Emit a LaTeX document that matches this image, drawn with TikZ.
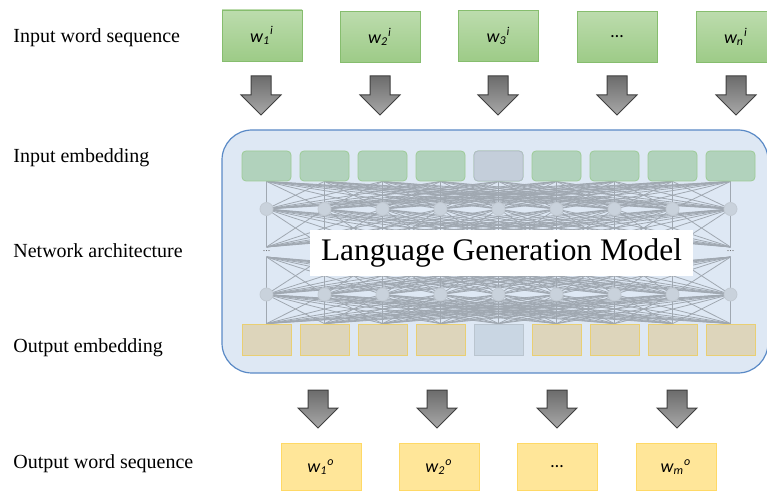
\documentclass[tikz,border=0pt]{standalone}
\usepackage{fontspec}
\setmainfont{Liberation Serif}
\newfontfamily\wordfont{Carlito}
\usepackage{xcolor}
\usetikzlibrary{positioning}
\usetikzlibrary{backgrounds}

\definecolor{modelfill}{HTML}{DEE8F4}
\definecolor{modelline}{HTML}{5A8AC6}
\definecolor{intop}{HTML}{BCDCAD}
\definecolor{inbot}{HTML}{9DCB87}
\definecolor{inline}{HTML}{86BD6E}
\definecolor{outfill}{HTML}{FFE699}
\definecolor{outline}{HTML}{FFD966}
\definecolor{embgreen}{HTML}{B1D2BC}
\definecolor{embgreenline}{HTML}{9DCB96}
\definecolor{embgrey}{HTML}{C4CEDA}
\definecolor{embgreyline}{HTML}{B0BAC5}
\definecolor{embtan}{HTML}{DDD5BB}
\definecolor{embtanline}{HTML}{E9CF73}
\definecolor{embblue}{HTML}{C9D6E3}
\definecolor{netline}{HTML}{A0A8B1}
\definecolor{neuronfill}{HTML}{C9D2DC}
\definecolor{arrowtop}{HTML}{6C6C6C}
\definecolor{arrowbot}{HTML}{A8A8A8}

\tikzset{
  lbl/.style={anchor=base west, inner sep=0pt, font=\fontsize{10}{12}\selectfont},
  wordin/.style={draw=inline, top color=intop, bottom color=inbot, minimum width=40pt,
    minimum height=25.5pt, inner sep=0pt, font=\wordfont\fontsize{9}{10}\selectfont\itshape},
  wordout/.style={draw=outline, fill=outfill, minimum width=40pt, minimum height=23.5pt,
    inner sep=0pt, font=\wordfont\fontsize{9}{10}\selectfont\itshape},
  embin/.style={draw=embgreenline, fill=embgreen, rounded corners=2pt, minimum width=24.5pt,
    minimum height=15pt, inner sep=0pt},
  embout/.style={draw=embtanline, fill=embtan, minimum width=24.5pt, minimum height=15.5pt, inner sep=0pt},
  neuron/.style={circle, draw=neuronfill!90!gray, fill=neuronfill, minimum size=6.5pt, inner sep=0pt},
  blockarrow/.style={draw=black!75, top color=arrowtop, bottom color=arrowbot, line width=0.5pt}
}

\begin{document}
\begin{tikzpicture}[x=0.5pt,y=-0.5pt]
\useasboundingbox (0,0) rectangle (767,492);

% row labels
\node[lbl] (lin) at (13,43) {Input word sequence};
\node[lbl] (lie) at (13,163) {Input embedding};
\node[lbl] (lna) at (13,257) {Network architecture};
\node[lbl] (loe) at (13,352) {Output embedding};
\node[lbl] (lout) at (13,468) {Output word sequence};

% input words
\node[wordin] (in1) at (262,35.5) {w\textsubscript{1}\textsuperscript{i}};
\node[wordin] (in2) at (380,37) {w\textsubscript{2}\textsuperscript{i}};
\node[wordin] (in3) at (498.5,36) {w\textsubscript{3}\textsuperscript{i}};
\node[wordin] (in4) at (617,37) {\upshape\dots};
\node[wordin] (in5) at (736,37) {w\textsubscript{n}\textsuperscript{i}};

% embeddings and hidden units
\foreach \i in {1,...,9} {
  \node[embin] (ie\i) at ({266.5+58*(\i-1)},166) {};
  \node[embout] (oe\i) at ({266.5+58*(\i-1)},339.5) {};
  \node[neuron] (ha\i) at ({266.5+58*(\i-1)},209) {};
  \node[neuron] (hb\i) at ({266.5+58*(\i-1)},294.5) {};
  \coordinate (mt\i) at ({266.5+58*(\i-1)},247);
  \coordinate (mb\i) at ({266.5+58*(\i-1)},257);
}
\node[embin, draw=embgreyline, fill=embgrey] at (ie5) {};
\node[embout, draw=embblue!80!gray, fill=embblue] at (oe5) {};
\node[inner sep=0pt, text=black!60, font=\fontsize{5}{5}\selectfont] (dl) at (266.5,251) {...};
\node[inner sep=0pt, text=black!60, font=\fontsize{5}{5}\selectfont] (dr) at (730.5,251) {...};

\begin{pgfonlayer}{background}
  \draw[modelline, fill=modelfill, line width=0.6pt, rounded corners=15pt] (222,130) rectangle (768,373);
  \foreach \i in {1,...,9}
    \foreach \j in {1,...,9} {
      \draw[netline, line width=0.4pt] (ie\i.south) -- (ha\j.center);
      \draw[netline, line width=0.4pt] (ha\i.center) -- (mt\j);
      \draw[netline, line width=0.4pt] (mb\i) -- (hb\j.center);
      \draw[netline, line width=0.4pt] (hb\i.center) -- (oe\j.north);
    }
\end{pgfonlayer}

\node[fill=white, minimum width=191.5pt, minimum height=23pt, inner sep=0pt,
  font=\fontsize{15.7}{18}\selectfont] (lgm) at (501.5,253) {Language Generation Model};

% block arrows
\foreach \x in {261,380,498,617,736}
  \draw[blockarrow] (\x-10,76) -- (\x+10,76) -- (\x+10,95) -- (\x+20,95) -- (\x,115)
    -- (\x-20,95) -- (\x-10,95) -- cycle;
\foreach \x in {318,437,557,677}
  \draw[blockarrow] (\x-10,390) -- (\x+10,390) -- (\x+10,408) -- (\x+20,408) -- (\x,428)
    -- (\x-20,408) -- (\x-10,408) -- cycle;

% output words
\node[wordout] (out1) at (321,467) {w\textsubscript{1}\textsuperscript{o}};
\node[wordout] (out2) at (439,467) {w\textsubscript{2}\textsuperscript{o}};
\node[wordout] (out3) at (557,467) {\upshape\dots};
\node[wordout] (out4) at (676,467) {w\textsubscript{m}\textsuperscript{o}};
\end{tikzpicture}
\end{document}
